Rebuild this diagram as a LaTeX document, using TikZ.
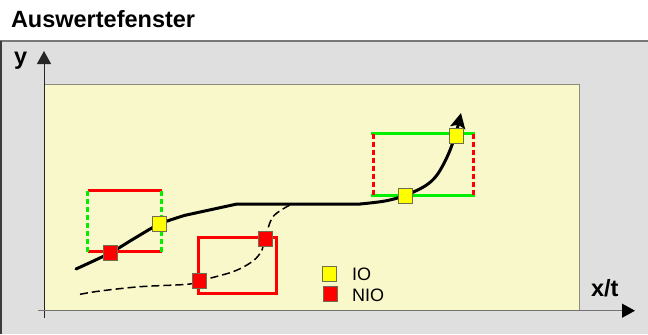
\documentclass[tikz,border=0pt]{standalone}
\usepackage{fontspec}
\setmainfont{Liberation Sans}
\usetikzlibrary{arrows.meta}
\definecolor{panelgray}{RGB}{223,223,223}
\definecolor{paneledge}{RGB}{120,120,120}
\definecolor{paneldark}{RGB}{60,60,60}
\definecolor{plotbg}{RGB}{249,248,202}
\definecolor{plotedge}{RGB}{140,140,120}
\definecolor{okgreen}{RGB}{0,240,0}
\definecolor{nokred}{RGB}{255,0,0}
\definecolor{okyellow}{RGB}{255,255,0}
\definecolor{markedge}{RGB}{110,110,80}
\tikzset{
  bigfont/.style={font=\fontsize{23.5bp}{28bp}\selectfont\bfseries},
  legfont/.style={font=\fontsize{18bp}{22bp}\selectfont},
  lbl/.style={anchor=base west, inner sep=0pt, outer sep=0pt},
  axisline/.style={line width=1bp},
  limitsolid/.style={line width=2.5bp},
  limitdash/.style={line width=2.5bp, dash pattern=on 5bp off 3bp},
  marker/.style={draw=markedge, line width=0.9bp, minimum width=14bp,
    minimum height=15bp, inner sep=0pt, outer sep=0pt},
  iomark/.style={marker, fill=okyellow},
  niomark/.style={marker, fill=nokred},
  curvemain/.style={line width=3bp, line cap=round, line join=round},
  curveaux/.style={line width=1.5bp, dash pattern=on 8bp off 4bp}
}
\begin{document}
\begin{tikzpicture}[x=1bp, y=-1bp]
\useasboundingbox (0,0) rectangle (648,334);

% title
\node[lbl, bigfont] (title) at (11,27) {Auswertefenster};

% panel
\fill[panelgray] (0,41) rectangle (648,334);
\draw[paneledge, line width=1.5bp] (0,41) -- (648,41);
\draw[paneldark, line width=2bp] (1,41) -- (1,334);

% plot area
\draw[plotedge, fill=plotbg, line width=1bp] (44,84.5) rectangle (579,310.7);

% axes
\coordinate (yfoot) at (44,318);
\coordinate (ytip) at (44,51);
\coordinate (xfoot) at (38,310.7);
\coordinate (xtip) at (635,310.7);
\draw[axisline, black!85, -{Triangle[length=13bp, width=14bp]}] (yfoot) -- (ytip);
\draw[axisline, black!55, -{Triangle[length=13bp, width=14bp, black]}] (xfoot) -- (xtip);
\node[lbl, bigfont] (ylab) at (14,64) {y};
\node[lbl, bigfont] (xlab) at (591,296.7) {x/t};

% window 1
\draw[limitsolid, nokred] (87.5,190.7) -- (161.7,190.7);
\draw[limitsolid, nokred] (87.5,251.7) -- (161.7,251.7);
\draw[limitdash, okgreen] (87.5,190.7) -- (87.5,251.7);
\draw[limitdash, okgreen] (161.5,190.7) -- (161.5,251.7);

% window 2
\draw[line width=3bp, nokred] (198.3,237.7) rectangle (276,293.7);

% window 3
\draw[limitsolid, okgreen] (371.3,133.7) -- (475.3,133.7);
\draw[limitsolid, okgreen] (371.3,195.3) -- (475.3,195.3);
\draw[limitdash, nokred] (373.3,133.7) -- (373.3,195.3);
\draw[limitdash, nokred] (473.3,133.7) -- (473.3,195.3);

% auxiliary dashed curve
\draw[curveaux] plot[smooth, tension=0.55] coordinates {
  (80,294.3) (100,291) (140,286.7) (187,284.3) (199,281) (233,271.7)
  (253,261) (262,250) (265,238.3) (273,216.7) (290,205)};

% main curve
\draw[curvemain] plot[smooth, tension=0.5] coordinates {
  (76,269) (110,253) (135,238) (159.5,224) (185,215.3)};
\draw[curvemain] (185,215.3) -- (237,204) -- (360,204);
\draw[curvemain, line cap=butt, -{Stealth[length=15bp, width=15bp, inset=3bp]}]
  plot[smooth, tension=0.55] coordinates {
  (360,204) (385,201) (405,195.5) (425,186) (437,175) (448,155) (456,133) (461,113)};

% markers
\node[niomark] (m1) at (110,253) {};
\node[iomark]  (m2) at (159.7,224) {};
\node[niomark] (m3) at (199.3,280.8) {};
\node[niomark] (m4) at (265.3,238.7) {};
\node[iomark]  (m5) at (405.3,195.5) {};
\node[iomark]  (m6) at (456.3,136) {};

% legend
\node[iomark]  (lio)  at (329.5,273.5) {};
\node[niomark] (lnio) at (330,294.3) {};
\node[lbl, legfont] (tio)  at (352,280) {IO};
\node[lbl, legfont] (tnio) at (352,301) {NIO};
\end{tikzpicture}
\end{document}
